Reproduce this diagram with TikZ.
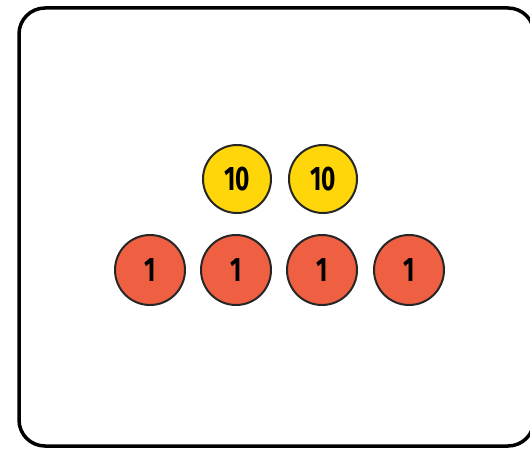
\documentclass[tikz,border=0pt]{standalone}
\usepackage{fontspec}
\usepackage{graphicx}
\setmainfont{Fira Sans}
\definecolor{tenyellow}{RGB}{255,214,10}
\definecolor{onered}{RGB}{239,95,66}
\newcommand{\narrow}[1]{\scalebox{0.72}[1]{#1}}
\begin{document}
	\begin{tikzpicture}[x=1pt,y=-1pt,
		ten/.style={circle,draw=black!85,line width=2pt,fill=tenyellow,minimum size=68pt,inner sep=0pt,font=\fontsize{34}{34}\selectfont\bfseries},
		one/.style={circle,draw=black!85,line width=2pt,fill=onered,minimum size=70pt,inner sep=0pt,font=\fontsize{34}{34}\selectfont\bfseries}]
		
		\useasboundingbox (0,0) rectangle (530,449);
		\draw[line width=3.5pt,rounded corners=26pt] (19,8) rectangle (534,446);
		
		\node[ten] (t1) at (237,179) {\narrow{10}};
		\node[ten] (t2) at (323,179) {\narrow{10}};
		
		\node[one] (o1) at (150,270) {\narrow{1}};
		\node[one] (o2) at (236,270) {\narrow{1}};
		\node[one] (o3) at (322,270) {\narrow{1}};
		\node[one] (o4) at (409,270) {\narrow{1}};
	\end{tikzpicture}
\end{document}
